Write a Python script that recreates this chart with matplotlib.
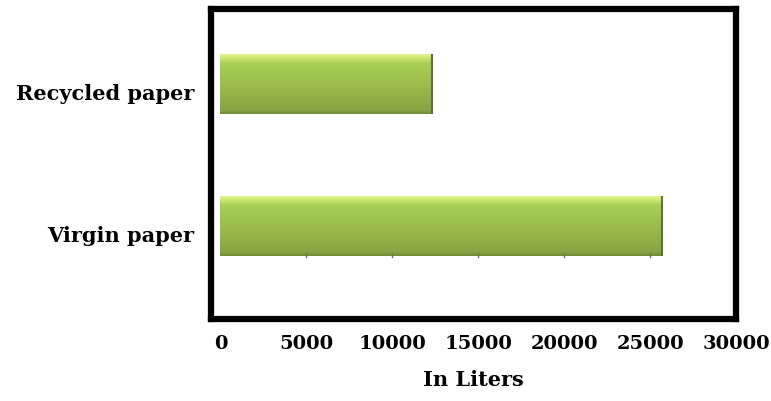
import numpy as np
import matplotlib
matplotlib.use("Agg")
import matplotlib.pyplot as plt
from matplotlib.colors import LinearSegmentedColormap
from matplotlib.transforms import ScaledTranslation

categories = ["Virgin paper", "Recycled paper"]
values = [25700, 12300]
xticks = [0, 5000, 10000, 15000, 20000, 25000, 30000]
xlabel = "In Liters"

FONT = "DejaVu Serif"

fig = plt.figure(figsize=(7.71, 4.01), dpi=100)
W, H = 771, 401
left, right, top, bottom = 211, 736, 9, 318.5
ax = fig.add_axes([left / W, 1 - bottom / H, (right - left) / W, (bottom - top) / H])

ypos = np.arange(len(categories))
bars = ax.barh(ypos, values, height=0.42, color="#a2c64f", edgecolor="none", zorder=2)

# vertical gradient / bevel look for each bar
grad_cols = [(0.0, "#6f8c36"), (0.06, "#86a443"), (0.45, "#98bb4a"),
             (0.85, "#a9cf55"), (0.93, "#c9e56e"), (1.0, "#e2f68e")]
cmap = LinearSegmentedColormap.from_list("g", grad_cols)
g = np.linspace(0, 1, 200).reshape(-1, 1)
for b in bars:
    x0, y0 = b.get_x(), b.get_y()
    w, h = b.get_width(), b.get_height()
    im = ax.imshow(g, extent=[x0, x0 + w, y0, y0 + h], origin="lower",
                   cmap=cmap, aspect="auto", zorder=3, interpolation="bilinear")
    im.set_clip_path(b)
    ax.plot([x0 + w, x0 + w], [y0, y0 + h], color="#5d7430", lw=1.5, zorder=4,
            solid_capstyle="butt")

# small axis tick marks along the bottom of the first bar
for t in xticks[1:-1]:
    if t < values[0]:
        y0 = bars[0].get_y()
        ax.plot([t, t], [y0 - 0.01, y0 + 0.02], color="#6a7f45", lw=1, zorder=5)

ax.set_xlim(-550, 30000)
ax.set_ylim(-0.654, 1.53)
ax.set_xticks(xticks)
ax.set_xticklabels([str(t) for t in xticks], fontfamily=FONT, fontweight="bold", fontsize=14)
ax.set_yticks(ypos)
ax.set_yticklabels(categories, fontfamily=FONT, fontweight="bold", fontsize=15)
ax.tick_params(axis="both", length=0)
ax.tick_params(axis="x", pad=12)
ax.tick_params(axis="y", pad=12)
off = ScaledTranslation(0, -0.08, fig.dpi_scale_trans)
for lab in ax.get_yticklabels():
    lab.set_transform(lab.get_transform() + off)

ax.set_xlabel(xlabel, fontfamily=FONT, fontweight="bold", fontsize=15, labelpad=12)

for s in ax.spines.values():
    s.set_linewidth(4.5)
    s.set_color("black")
    s.set_capstyle("projecting")
    s.set_joinstyle("miter")

fig.savefig("out.png", dpi=100)
